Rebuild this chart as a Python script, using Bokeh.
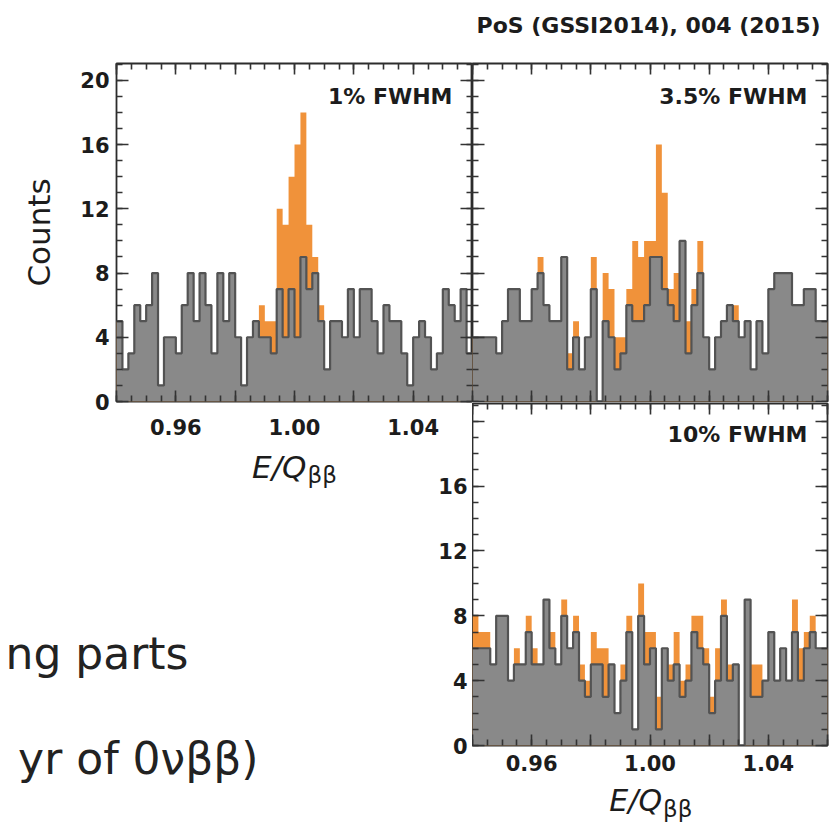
import numpy as np
from bokeh.plotting import figure
from bokeh.layouts import column, row
from bokeh.models import Range1d, LinearAxis, SingleIntervalTicker, CustomJSTickFormatter, Label
from bokeh.embed import file_html
from bokeh.resources import INLINE

# ---------------- data ----------------
bin_lo, bin_hi, n_bins = 0.94, 1.06, 60

bkg_1pct = [5, 2, 3, 6, 5, 6, 8, 1, 4, 4, 3, 6, 8, 5, 8, 6, 3, 8, 5, 8,
            4, 1, 4, 5, 4, 4, 3, 7, 4, 7, 4, 9, 7, 8, 5, 2, 5, 5, 4, 7,
            4, 7, 7, 5, 3, 6, 5, 5, 3, 1, 4, 5, 4, 2, 3, 7, 6, 5, 7, 3]
sig_1pct = [0, 0, 0, 0, 0, 0, 0, 0, 0, 0, 0, 0, 0, 0, 0, 0, 0, 0, 0, 0,
            0, 0, 0, 0, 2, 1, 2, 5, 7, 7, 12, 9, 4, 1, 1, 0, 0, 0, 0, 0,
            0, 0, 0, 0, 0, 0, 0, 0, 0, 0, 0, 0, 0, 0, 0, 0, 0, 0, 0, 0]

bkg_3p5pct = [4, 4, 4, 4, 3, 5, 7, 7, 5, 5, 7, 8, 6, 5, 5, 9, 2, 4, 2, 4,
              7, 0, 5, 4, 2, 3, 6, 5, 5, 6, 9, 9, 7, 6, 5, 10, 3, 6, 8, 4,
              2, 4, 5, 6, 5, 4, 5, 2, 5, 3, 7, 8, 8, 8, 6, 6, 7, 7, 5, 5]
sig_3p5pct = [0, 0, 0, 0, 0, 0, 0, 0, 0, 0, 0, 1, 0, 0, 0, 0, 1, 1, 0, 0,
              2, 0, 3, 3, 2, 1, 1, 5, 4, 4, 1, 7, 6, 1, 3, 0, 2, 1, 2, 0,
              0, 0, 0, 0, 1, 0, 0, 0, 0, 0, 0, 0, 0, 0, 0, 0, 0, 0, 0, 0]

bkg_10pct = [6, 6, 6, 5, 8, 8, 4, 5, 5, 7, 5, 5, 9, 6, 5, 8, 6, 7, 4, 3,
             5, 5, 3, 5, 2, 4, 7, 1, 8, 5, 6, 1, 6, 4, 5, 3, 4, 7, 6, 5,
             2, 4, 8, 4, 5, 0, 9, 3, 3, 4, 7, 4, 6, 4, 7, 4, 6, 7, 6, 6]
sig_10pct = [2, 1, 1, 0, 0, 0, 0, 1, 0, 1, 1, 0, 0, 1, 0, 1, 0, 1, 1, 1,
             2, 1, 3, 0, 0, 1, 1, 0, 2, 2, 1, 2, 0, 1, 2, 1, 1, 1, 2, 1,
             1, 2, 1, 1, 0, 0, 0, 2, 2, 0, 0, 0, 0, 0, 2, 2, 1, 1, 0, 0]

panel_titles = ["1% FWHM", "3.5% FWHM", "10% FWHM"]
x_tick_labels = ["0.96", "1.00", "1.04"]
header_text = "PoS (GSSI2014), 004 (2015)"
slide_lines = ["ng parts", "yr of 0\u03bd\u03b2\u03b2)"]

# ---------------- style / layout constants ----------------
FONT = "DejaVu Sans"
ORANGE = "#F0923A"
GRAY = "#898989"
EDGE = "#535353"
FRAME = "#2c2c2c"
TICK = "#333333"
TXT = "#1c1c1c"
LBL_SIZE = "21px"
PAGE_W, PAGE_H = 837, 827

P1_LEFT, P1_RIGHT, TOP_FRAME_TOP, TOP_FRAME_BOTTOM = 116, 472, 63, 401
P3_TOP, P3_BOTTOM = 403, 745
Y_TOP_END, Y_BOT_END = 21.05, 21.1
LEFT_W, RIGHT_W = 472, 365
P1_H = 448
HEAD_H = 45           # strip above panel 2 carrying the header
P3_END = 781          # page y where panel-3 figure ends (its x-axis title strip follows)
YL_W = 40             # width of the strip that carries panel-3 y labels

edges = np.linspace(bin_lo, bin_hi, n_bins + 1)


def make_fig(width, height, mb, xr, yr):
    p = figure(width=width, height=height, x_range=xr, y_range=yr,
               x_axis_location=None, y_axis_location=None,
               toolbar_location=None, output_backend="svg",
               min_border_left=mb[0], min_border_right=mb[1],
               min_border_top=mb[2], min_border_bottom=mb[3])
    p.frame_align = False
    p.xgrid.visible = False
    p.ygrid.visible = False
    p.background_fill_color = "white"
    p.border_fill_color = "white"
    return p


def x_ticker():
    return SingleIntervalTicker(interval=0.02, num_minor_ticks=4)


def y_ticker():
    return SingleIntervalTicker(interval=4, num_minor_ticks=4)


def x_fmt():
    return CustomJSTickFormatter(args=dict(labels=x_tick_labels),
                                 code="const s = tick.toFixed(2); return labels.includes(s) ? s : '';")


def add_axis(p, side, ticker, formatter=None, labels=False, standoff=0,
             tick_in=11, minor_in=6):
    ax = LinearAxis(ticker=ticker, major_tick_in=tick_in, major_tick_out=0,
                    minor_tick_in=minor_in, minor_tick_out=0,
                    axis_line_color=None,
                    major_tick_line_color=TICK, minor_tick_line_color=TICK,
                    major_tick_line_width=1.6, minor_tick_line_width=1.6)
    if tick_in == 0:
        ax.major_tick_line_color = None
        ax.minor_tick_line_color = None
    if formatter is not None:
        ax.formatter = formatter
    if labels:
        ax.major_label_text_font = FONT
        ax.major_label_text_font_size = LBL_SIZE
        ax.major_label_text_font_style = "bold"
        ax.major_label_text_color = TXT
        ax.major_label_standoff = standoff
    else:
        ax.major_label_text_color = None
        ax.major_label_standoff = 0
    p.add_layout(ax, side)
    return ax


def draw_hist(p, bkg, sig):
    bkg = np.asarray(bkg, dtype=float)
    tot = bkg + np.asarray(sig, dtype=float)
    p.varea_step(x=edges, y1=np.zeros(n_bins + 1), y2=np.append(tot, tot[-1]),
                 step_mode="after", fill_color=ORANGE)
    p.varea_step(x=edges, y1=np.zeros(n_bins + 1), y2=np.append(bkg, bkg[-1]),
                 step_mode="after", fill_color=GRAY)
    p.step(x=edges, y=np.append(bkg, bkg[-1]), mode="after",
           line_color=EDGE, line_width=2.2)


def frame_style(p):
    p.outline_line_color = FRAME
    p.outline_line_width = 1.8
    p.outline_line_alpha = 1.0


def panel_label(p, text, yoff):
    p.add_layout(Label(x=bin_hi, y=p.y_range.end, x_offset=-20, y_offset=yoff,
                       text=text, text_align="right", text_baseline="middle",
                       text_font=FONT, text_font_size="22px", text_font_style="bold",
                       text_color=TXT))


def eq_label(p, x, y_mid, y_mid_sub, x_shift, size="31px"):
    # italic E/Q followed by a lowered "ββ" subscript (y values: page-pixel rows)
    p.add_layout(Label(x=x, y=y_mid, x_offset=x_shift,
                       text="E/Q", text_align="right", text_baseline="middle",
                       text_font=FONT, text_font_size=size, text_font_style="italic",
                       text_color=TXT))
    p.add_layout(Label(x=x, y=y_mid_sub, x_offset=x_shift + 1,
                       text="\u03b2\u03b2", text_align="left", text_baseline="middle",
                       text_font=FONT, text_font_size="23px",
                       text_color=TXT))


# ---------------- header strip ----------------
ph = make_fig(RIGHT_W, HEAD_H, (0, 0, 0, 0), Range1d(LEFT_W, PAGE_W), Range1d(HEAD_H, 0))
ph.outline_line_color = None
ph.add_layout(Label(x=820, y=25, text=header_text, text_align="right", text_baseline="middle",
                    text_font=FONT, text_font_size="22px", text_font_style="bold",
                    text_color=TXT))

# ---------------- panel 1 (1% FWHM) ----------------
p1 = make_fig(LEFT_W, P1_H, (P1_LEFT, 0, TOP_FRAME_TOP, P1_H - TOP_FRAME_BOTTOM),
              Range1d(bin_lo, bin_hi), Range1d(0, Y_TOP_END))
draw_hist(p1, bkg_1pct, sig_1pct)
frame_style(p1)
ax = add_axis(p1, "left", y_ticker(), labels=True, standoff=7, tick_in=12)
ax.axis_label = "Counts"
ax.axis_label_text_font = FONT
ax.axis_label_text_font_size = "31px"
ax.axis_label_text_font_style = "normal"
ax.axis_label_text_color = TXT
ax.axis_label_standoff = 20
add_axis(p1, "right", y_ticker(), tick_in=12)
add_axis(p1, "below", x_ticker(), x_fmt(), labels=True, standoff=17)
add_axis(p1, "above", x_ticker())
panel_label(p1, panel_titles[0], -33)

# ---------------- panel 2 (3.5% FWHM) ----------------
P2_H = P3_TOP - 1 - HEAD_H
p2 = make_fig(RIGHT_W, P2_H, (0, 10, TOP_FRAME_TOP - HEAD_H, P3_TOP - 1 - TOP_FRAME_BOTTOM),
              Range1d(bin_lo, bin_hi), Range1d(0, Y_TOP_END))
draw_hist(p2, bkg_3p5pct, sig_3p5pct)
frame_style(p2)
add_axis(p2, "left", y_ticker(), tick_in=12)
add_axis(p2, "right", y_ticker(), tick_in=12)
add_axis(p2, "below", x_ticker())
add_axis(p2, "above", x_ticker())
panel_label(p2, panel_titles[1], -33)

# ---------------- panel 3 (10% FWHM) ----------------
p3_x = Range1d(bin_lo, bin_hi)
P3_H = P3_END - (P3_TOP - 1)
p3 = make_fig(RIGHT_W, P3_H, (0, 10, 1, P3_END - P3_BOTTOM),
              p3_x, Range1d(0, Y_BOT_END))
draw_hist(p3, bkg_10pct, sig_10pct)
frame_style(p3)
add_axis(p3, "left", y_ticker(), tick_in=12)
add_axis(p3, "right", y_ticker(), tick_in=12)
add_axis(p3, "below", x_ticker(), x_fmt(), labels=True, standoff=9)
add_axis(p3, "above", x_ticker())
panel_label(p3, panel_titles[2], -31)

# strip under panel 3 holding its x-axis title (same x scale, page-pixel y)
pe = make_fig(RIGHT_W, PAGE_H - P3_END, (0, 10, 0, 0), p3_x, Range1d(PAGE_H, P3_END))
pe.outline_line_color = None
eq_label(pe, 1.00, 800, 808, 12, size="30px")

# ---------------- lower-left: slide text + panel-1 x-axis title ----------------
PB_H = PAGE_H - P1_H
TXT_W = LEFT_W - YL_W
pt = make_fig(TXT_W, PB_H, (0, 0, 0, 0), Range1d(0, TXT_W), Range1d(PAGE_H, P1_H))
pt.outline_line_color = None
px_per_unit = (P1_RIGHT - P1_LEFT) / (bin_hi - bin_lo)
eq_x_page = P1_LEFT + (1.00 - bin_lo) * px_per_unit
eq_label(pt, eq_x_page, 466, 474, 12)
pt.add_layout(Label(x=188, y=653, text=slide_lines[0], text_align="right",
                    text_baseline="middle", text_font=FONT, text_font_size="44px",
                    text_color="#222222"))
pt.add_layout(Label(x=258, y=758, text=slide_lines[1], text_align="right",
                    text_baseline="middle", text_font=FONT, text_font_size="44px",
                    text_color="#222222"))

# ---------------- lower-left strip: y tick labels of panel 3 ----------------
pb_y_end = Y_BOT_END * (P3_BOTTOM - P1_H) / (P3_BOTTOM - P3_TOP)
pyl = make_fig(YL_W, PB_H, (YL_W - 1, 0, 0, PAGE_H - P3_BOTTOM),
               Range1d(0, 1), Range1d(0, pb_y_end))
pyl.outline_line_color = None
add_axis(pyl, "left", y_ticker(), labels=True, standoff=4, tick_in=0, minor_in=0)

layout = row(column(p1, row(pt, pyl)), column(ph, p2, p3, pe))

with open("out.html", "w") as f:
    f.write(file_html(layout, INLINE))
